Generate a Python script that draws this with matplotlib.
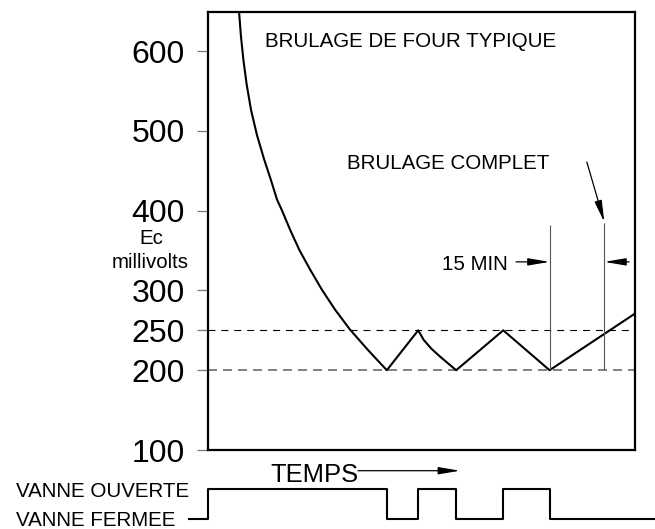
import matplotlib
matplotlib.use("Agg")
import matplotlib.pyplot as plt

plt.rcParams['font.family'] = ['Liberation Sans', 'DejaVu Sans']
plt.rcParams['lines.scale_dashes'] = False

# ---- data ----
curve_t = [8.5, 9.0, 9.7, 10.6, 11.8, 13.4, 15.4, 17.2, 18.9, 20.2, 22.5, 25.0,
           28.0, 31.2, 34.8, 38.9, 43.9, 49.0,
           57.6, 59.1, 61.2, 63.6, 68.0, 80.9, 93.6, 117.0]
curve_mv = [650, 620, 589, 558, 526, 495, 464, 439, 414, 401, 376, 351,
            326, 301, 276, 251, 225, 200,
            250, 238, 227, 217, 200, 250, 200, 271]
valve_t = [-5.3, 0.0, 49.0, 57.6, 68.0, 80.9, 93.6, 122.5]
valve_state = [0, 1, 0, 1, 0, 1, 0, 0]
yticks = [100, 200, 250, 300, 400, 500, 600]
low_mv = 200
high_mv = 250
burn_end = 93.6
burn_minutes = 15
t_max = 117.0
y_min, y_max = 100, 649

W, H = 655, 529
fig = plt.figure(figsize=(W / 100, H / 100), dpi=100)

def fx(x):
    return x / W

def fy(y):
    return 1 - y / H

ax = fig.add_axes([fx(208), fy(450), fx(635) - fx(208), fy(12) - fy(450)])
ax.set_xlim(0, t_max)
ax.set_ylim(y_min, y_max)
for s in ax.spines.values():
    s.set_linewidth(1.6)
    s.set_color('black')
ax.set_xticks([])
ax.set_yticks(yticks)
ax.set_yticklabels([str(v) for v in yticks])
ax.tick_params(axis='y', direction='out', length=8, width=0.9, color='#777777',
               labelsize=23, pad=8.5, labelcolor='black')

# reference lines
ax.axhline(high_mv, color='black', lw=0.8, dashes=(5.0, 4.3))
ax.axhline(low_mv, color='#808080', lw=1.4, dashes=(6.5, 4.3))

# main curve
ax.plot(curve_t, curve_mv, color='black', lw=1.5, solid_joinstyle='round')

# 15 min markers
complete_t = burn_end + burn_minutes
ax.vlines([burn_end], low_mv, 382, color='#555555', lw=0.8)
ax.vlines([complete_t], low_mv, 385, color='#555555', lw=0.8)

arrow_y = 335.8
ap = dict(arrowstyle='-|>,head_length=1.3,head_width=0.22', mutation_scale=10,
          color='black', lw=0.9, shrinkA=0, shrinkB=0)
ax.annotate('', xy=(burn_end, arrow_y), xytext=(84.4, arrow_y), arrowprops=ap)
ax.annotate('', xy=(complete_t, arrow_y), xytext=(115.4, arrow_y), arrowprops=ap)
ax.annotate('', xy=(complete_t, 385.6), xytext=(103.8, 461), arrowprops=ap)

fs = 14.8
fig.text(fx(265), fy(46.7), 'BRULAGE DE FOUR TYPIQUE', fontsize=fs, va='baseline', ha='left')
fig.text(fx(347), fy(169), 'BRULAGE COMPLET', fontsize=fs, va='baseline', ha='left')
fig.text(fx(442), fy(270), '15 MIN', fontsize=fs, va='baseline', ha='left')
fig.text(fx(151), fy(244), 'Ec', fontsize=fs, va='baseline', ha='center')
fig.text(fx(150), fy(268), 'millivolts', fontsize=fs, va='baseline', ha='center')

# TEMPS
fig.text(fx(270), fy(481.7), 'TEMPS', fontsize=18.4, va='baseline', ha='left')
fig.add_artist(matplotlib.patches.FancyArrowPatch(
    (fx(358), fy(470.7)), (fx(460), fy(470.7)), transform=fig.transFigure,
    arrowstyle='-|>,head_length=1.3,head_width=0.22', mutation_scale=10,
    color='black', lw=0.9, shrinkA=0, shrinkB=0))

# valve signal
px_per_t = (635 - 208) / t_max
ax2 = fig.add_axes([0, fy(519), 1, fy(489) - fy(519)])
ax2.set_xlim(-208 / px_per_t, (W - 208) / px_per_t)
ax2.set_ylim(0, 1)
ax2.axis('off')
ax2.plot(valve_t, valve_state, drawstyle='steps-post', color='black', lw=1.5,
         clip_on=False)
fig.text(fx(16), fy(496.7), 'VANNE OUVERTE', fontsize=fs, va='baseline', ha='left')
fig.text(fx(16), fy(525.7), 'VANNE FERMEE', fontsize=fs, va='baseline', ha='left')

fig.savefig('out.png', dpi=100)
